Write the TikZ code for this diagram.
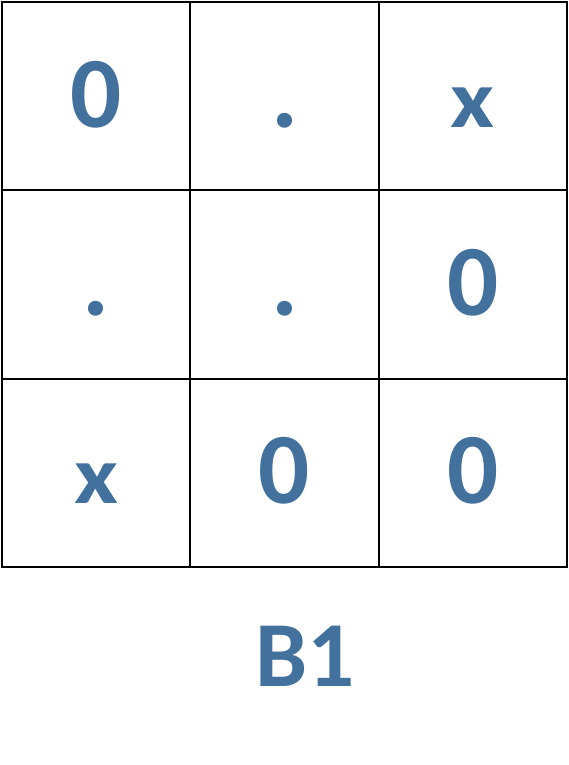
\documentclass[tikz,border=0pt]{standalone}
\usepackage{fontspec}
\usepackage[svgnames]{xcolor}
\usepackage{tikz}
\setmainfont{Carlito}
\definecolor{cellblue}{HTML}{41719C}
% Calibri's x is lower than Carlito's
\newcommand{\lowx}{\scalebox{0.95}[0.81]{x}}

\begin{document}
\begin{tikzpicture}[x=1pt, y=1pt,
	cell/.style={draw=black, line width=2pt, minimum size=188.33pt, inner sep=0pt,
	  text height=62pt, text depth=0pt, text=cellblue,
	  font=\fontsize{101}{101}\selectfont\bfseries}]
	\useasboundingbox (0,0) rectangle (569,-765);
	\node[cell] (c11) at (96.17,-96.17) {0};
	\node[cell] (c12) at (284.5,-96.17) {.};
	\node[cell] (c13) at (472.83,-96.17) {\lowx};
	\node[cell] (c21) at (96.17,-284.5) {.};
	\node[cell] (c22) at (284.5,-284.5) {.};
	\node[cell] (c23) at (472.83,-284.5) {0};
	\node[cell] (c31) at (96.17,-472.83) {\lowx};
	\node[cell] (c32) at (284.5,-472.83) {0};
	\node[cell] (c33) at (472.83,-472.83) {0};
	\node[anchor=base, text=cellblue, font=\fontsize{93}{93}\selectfont\bfseries] (b1) at (305,-686) {B1};
\end{tikzpicture}
\end{document}
